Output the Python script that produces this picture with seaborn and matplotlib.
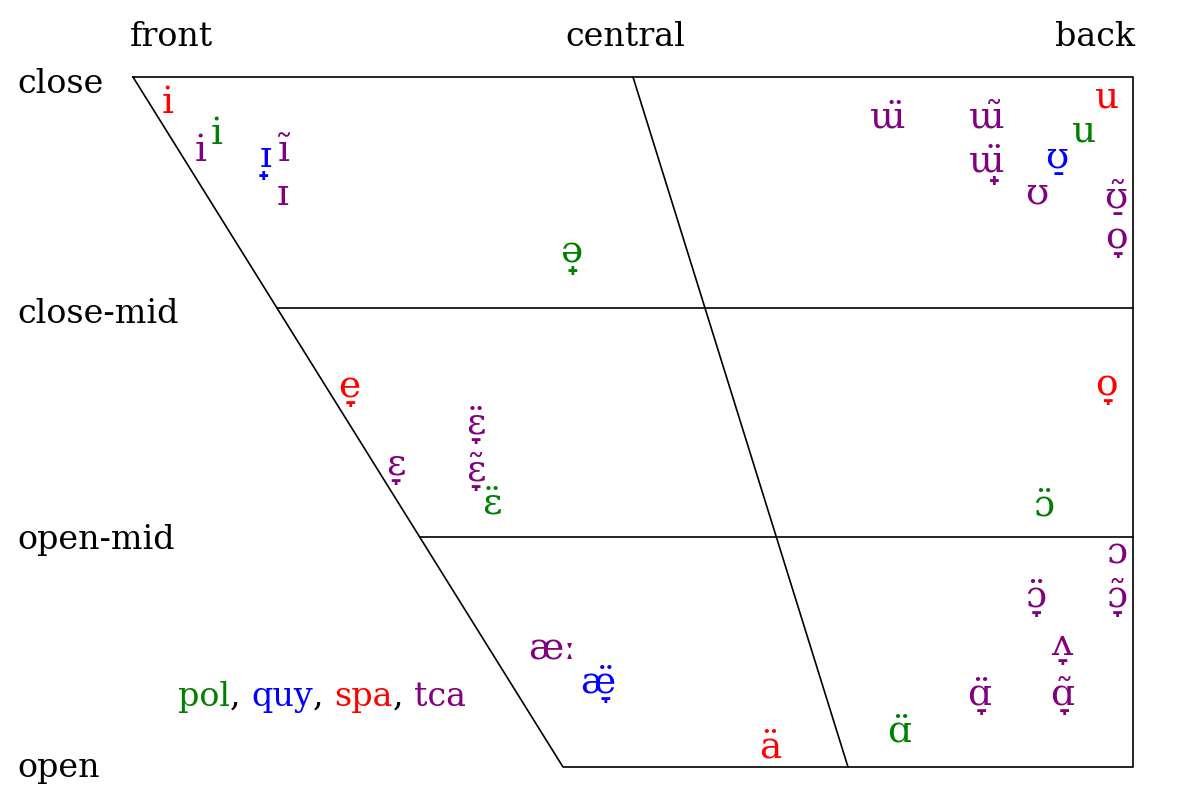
import matplotlib
matplotlib.use("Agg")
import matplotlib.pyplot as plt
import seaborn as sns
import pandas as pd
from matplotlib.offsetbox import TextArea, HPacker, AnnotationBbox

sns.set_theme(style="white")
plt.rcParams['font.family'] = ['DejaVu Serif', 'DejaVu Sans']

# ---- chart frame (pixel-like coordinates, y grows downward) ----
seg_ids = ["frame"] * 5 + ["closemid"] * 2 + ["openmid"] * 2 + ["central"] * 2
seg_x = [133, 1133, 1133, 563, 133, 277, 1133, 420, 1133, 633, 848]
seg_y = [77, 77, 767, 767, 77, 308, 308, 537, 537, 77, 767]

# ---- axis labels ----
col_labels = ["front", "central", "back"]
col_x = [130, 625, 1135]
col_ha = ["left", "center", "right"]
row_labels = ["close", "close-mid", "open-mid", "open"]
row_y = [93, 323, 549, 777]

# ---- vowels ----
vowels = ["i", "i", "i", "ɪ̟", "ĩ", "ɪ",
          "ɯ̈", "ɯ̃", "ɯ̟̈", "ʊ̠", "u", "u", "ʊ", "ʊ̠̃", "o̞",
          "ə̟",
          "e̞", "ɛ̞", "ɛ̞̈", "ɛ̞̃", "ɛ̈",
          "o̞", "ɔ̈",
          "ɔ", "ɔ̞̈", "ɔ̞̃",
          "ʌ̞", "ɑ̞̈", "ɑ̞̃", "ɑ̈",
          "æː", "æ̞̈", "ä"]
langs = ["spa", "tca", "pol", "quy", "tca", "tca",
         "tca", "tca", "tca", "quy", "pol", "spa", "tca", "tca", "tca",
         "pol",
         "spa", "tca", "tca", "tca", "pol",
         "spa", "pol",
         "tca", "tca", "tca",
         "tca", "tca", "tca", "pol",
         "tca", "quy", "spa"]
vx = [168, 201, 217, 267, 284, 283,
      888, 987, 987, 1057, 1084, 1107, 1037, 1116, 1116,
      571,
      349, 396, 476, 476, 492,
      1106, 1044,
      1117, 1036, 1117,
      1062, 979, 1062, 899,
      552, 598, 770]
vy = [113, 161, 144, 167, 161, 205,
      127, 127, 172, 168, 141, 107, 204, 208, 248,
      262,
      397, 475, 434, 481, 514,
      395, 515,
      563, 607, 607,
      655, 705, 705, 741,
      660, 693, 757]

lang_names = ["pol", "quy", "spa", "tca"]
lang_colors = {"pol": "#008000", "quy": "#0000ff", "spa": "#ff0000", "tca": "#800080"}

fig = plt.figure(figsize=(11.78, 8.0), dpi=100)
ax = fig.add_axes([0, 0, 1, 1])

lines = pd.DataFrame({"x": seg_x, "y": seg_y, "seg": seg_ids})
sns.lineplot(data=lines, x="x", y="y", units="seg", estimator=None, sort=False,
             color="black", linewidth=1.2, ax=ax)

FS = 24
FS_IPA = 27
for lab, x, ha in zip(col_labels, col_x, col_ha):
    ax.text(x, 46, lab, ha=ha, va="baseline", fontsize=FS, color="black")
for lab, y in zip(row_labels, row_y):
    ax.text(17, y, lab, ha="left", va="baseline", fontsize=FS, color="black")

df = pd.DataFrame({"v": vowels, "lang": langs, "x": vx, "y": vy})
for _, r in df.iterrows():
    ax.text(r.x, r.y, r.v, ha="center", va="baseline", fontsize=FS_IPA,
            color=lang_colors[r.lang])

# legend
parts = []
for i, name in enumerate(lang_names):
    parts.append(TextArea(name, textprops=dict(color=lang_colors[name], fontsize=FS)))
    if i < len(lang_names) - 1:
        parts.append(TextArea(", ", textprops=dict(color="black", fontsize=FS)))
pack = HPacker(children=parts, pad=0, sep=0, align="baseline")
ab = AnnotationBbox(pack, (322, 697), frameon=False, box_alignment=(0.5, 0.5),
                    xycoords="data")
ax.add_artist(ab)

ax.set_xlim(0, 1178)
ax.set_ylim(800, 0)
ax.axis("off")
fig.savefig("out.png", dpi=100, facecolor="white")
